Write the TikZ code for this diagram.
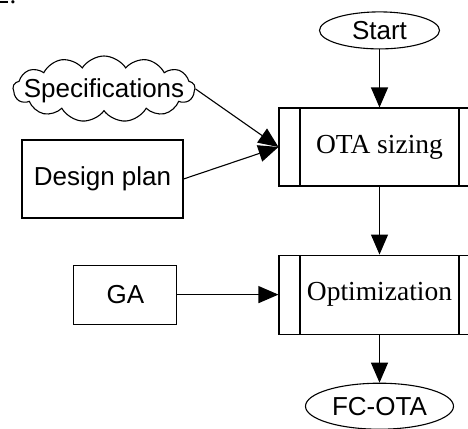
\documentclass[tikz,border=0pt]{standalone}
\usepackage{fontspec}
\setmainfont{Liberation Sans}
\newfontfamily\procfont{Liberation Serif}
\usetikzlibrary{arrows.meta,positioning,shapes.geometric,shapes.symbols}
\tikzset{
  termnode/.style={
    ellipse, draw, line width=1.1pt, inner sep=0pt,
    font=\fontsize{26}{30}\selectfont
  },
  procblock/.style={
    rectangle, draw, line width=1.1pt, inner sep=0pt,
    minimum width=201pt, minimum height=78pt,
    font=\procfont\fontsize{27.5}{31}\selectfont,
    path picture={
      \draw[line width=1.1pt]
        ([xshift=21pt]path picture bounding box.north west) --
        ([xshift=21pt]path picture bounding box.south west)
        ([xshift=-21pt]path picture bounding box.north east) --
        ([xshift=-21pt]path picture bounding box.south east);
    }
  },
  datablock/.style={
    rectangle, draw, line width=1.1pt, inner sep=0pt,
    font=\fontsize{26}{30}\selectfont
  },
  cloudnode/.style={
    cloud, draw, line width=1.1pt, inner sep=0pt,
    cloud puffs=13, cloud puff arc=115, aspect=3.2,
    minimum width=182pt, minimum height=66pt,
    font=\fontsize{26}{30}\selectfont
  },
  flowarrow/.style={
    -{Triangle[length=20pt,width=17pt]}, line width=1.1pt
  }
}
% text that does not widen the cloud around it
\newcommand{\cloudtext}[1]{\smash{\raisebox{-8.5pt}{\makebox[0pt]{#1}}}}
\begin{document}
\begin{tikzpicture}[x=1pt,y=-1pt]
  \useasboundingbox (0,0) rectangle (468,428);

  % Fragment of a caption number, cut off at the top
  \node[anchor=base west, inner sep=0pt, font=\procfont\fontsize{27}{31}\selectfont]
    (fignum) at (-4,3.5) {2.};

  % Main column
  \node[procblock] (sizing) at (379.5,147) {OTA sizing};
  \node[termnode, minimum width=120pt, minimum height=37pt,
        above=58pt of sizing] (start) {Start};
  \node[procblock, minimum height=79pt, below=68pt of sizing] (optim) {Optimization};
  \node[termnode, minimum width=148pt, minimum height=46pt,
        below=48pt of optim] (fcota) {FC-OTA};

  % Inputs
  \node[cloudnode] (spec) at (104,89) {\cloudtext{Specifications}};
  \node[datablock, minimum width=161pt, minimum height=78pt] (plan) at (102.5,179)
    {Design plan};
  \node[datablock, minimum width=103pt, minimum height=59pt,
        left=101pt of optim] (ga) {GA};

  % Arrows
  \draw[flowarrow] (start) -- (sizing);
  \draw[flowarrow] (spec.east) -- (sizing.west);
  \draw[flowarrow] (plan.east) -- (sizing.west);
  \draw[flowarrow] (sizing) -- (optim);
  \draw[flowarrow] (ga) -- (optim);
  \draw[flowarrow] (optim) -- (fcota);
\end{tikzpicture}
\end{document}
